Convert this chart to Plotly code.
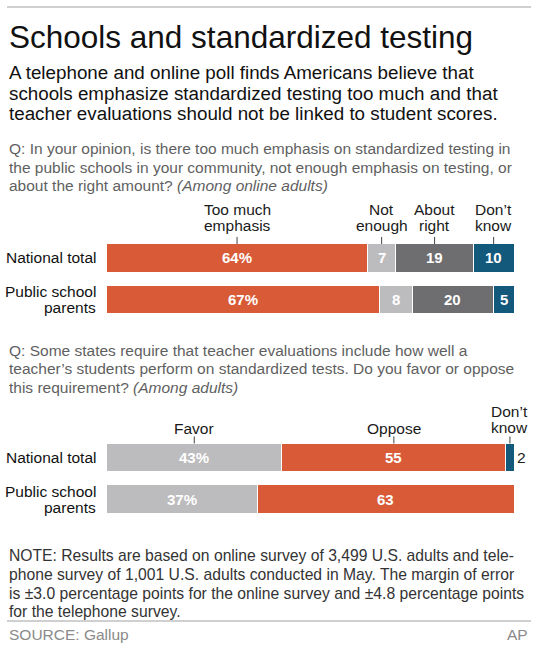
import plotly.graph_objects as go

# poll data (percent)
groups = ["National total", "Public school\nparents"]

q1_labels = ["Too much\nemphasis", "Not\nenough", "About\nright", "Don’t\nknow"]
q1_too_much = [64, 67]
q1_not_enough = [7, 8]
q1_about_right = [19, 20]
q1_dont_know = [10, 5]

q2_labels = ["Favor", "Oppose", "Don’t\nknow"]
q2_favor = [43, 37]
q2_oppose = [55, 63]
q2_dont_know = [2, 0]

W, H = 538, 649
FONT = "Liberation Sans, Arial, sans-serif"
ORANGE = "#d85a37"
LGRAY = "#bcbcbe"
DGRAY = "#6e6e70"
BLUE = "#13597b"


def py(p):  # pixel row -> paper y
    return 1 - p / H


def px(p):
    return p / W


fig = go.Figure()

charts = [
    ("y", [(q1_too_much, ORANGE), (q1_not_enough, LGRAY), (q1_about_right, DGRAY), (q1_dont_know, BLUE)], q1_labels),
    ("y2", [(q2_favor, LGRAY), (q2_oppose, ORANGE), (q2_dont_know, BLUE)], q2_labels),
]
BW = 0.675

for yref, series, labels in charts:
    xaxis = "x" if yref == "y" else "x2"
    base = [0] * len(groups)
    for k, (vals, col) in enumerate(series):
        fig.add_trace(go.Bar(
            y=groups, x=vals, orientation="h", width=BW,
            marker=dict(color=col, line=dict(color="white", width=1)),
            xaxis=xaxis, yaxis=yref, showlegend=False, hoverinfo="skip",
        ))
        for i, v in enumerate(vals):
            if v == 0:
                continue
            txt = f"{v}%" if k == 0 else str(v)
            if v < 4:
                fig.add_annotation(x=base[i] + v, y=groups[i], xref=xaxis, yref=yref,
                                   text=txt, showarrow=False, xanchor="left", yanchor="middle",
                                   xshift=1, font=dict(family=FONT, size=15.5, color="#222"))
            else:
                fig.add_annotation(x=base[i] + v / 2, y=groups[i], xref=xaxis, yref=yref,
                                   text=f"<b>{txt}</b>", showarrow=False,
                                   xanchor="center", yanchor="middle",
                                   font=dict(family=FONT, size=15, color="white"))
        # column header centred on first row's segment
        cx = base[0] + vals[0] / 2
        lines = labels[k].split("\n")
        if yref == "y":
            ys = [209, 225.5] if len(lines) == 2 else [225.5]
        else:
            ys = [412, 427.5] if len(lines) == 2 else [428]
        for t, yy in zip(lines, ys):
            fig.add_annotation(x=cx, y=py(yy), xref=xaxis, yref="paper", text=t,
                               showarrow=False, xanchor="center", yanchor="middle",
                               font=dict(family=FONT, size=15.5, color="#1a1a1a"))
        fig.add_shape(type="line", xref=xaxis, yref=yref, x0=cx, x1=cx,
                      y0=-BW / 2, y1=-BW / 2 - 0.17, line=dict(color="#444", width=1))
        base = [b + v for b, v in zip(base, vals)]
    # row labels
    for g in groups:
        lines = g.split("\n")
        shifts = [0] if len(lines) == 1 else [7.5, -8]
        for t, s in zip(lines, shifts):
            fig.add_annotation(x=px(98), y=g, xref="paper", yref=yref, text=t, yshift=s,
                               showarrow=False, xanchor="right", yanchor="middle",
                               font=dict(family=FONT, size=15.5, color="#111"))


# text blocks
def text(x, y, t, size, color="#111", anchor="left"):
    fig.add_annotation(x=px(x), y=py(y), xref="paper", yref="paper", text=t,
                       showarrow=False, xanchor=anchor, yanchor="middle",
                       font=dict(family=FONT, size=size, color=color))


text(7, 37, "Schools and standardized testing", 31.5)
sub = ["A telephone and online poll finds Americans believe that",
       "schools emphasize standardized testing too much and that",
       "teacher evaluations should not be linked to student scores."]
for i, s in enumerate(sub):
    text(7, 72.5 + i * 20.5, s, 18.8)

q1 = ["Q: In your opinion, is there too much emphasis on standardized testing in",
      "the public schools in your community, not enough emphasis on testing, or",
      "about the right amount? <i>(Among online adults)</i>"]
for i, s in enumerate(q1):
    text(7, 148.5 + i * 18.5, s, 15.5, "#5f5f5f")

q2 = ["Q: Some states require that teacher evaluations include how well a",
      "teacher’s students perform on standardized tests. Do you favor or oppose",
      "this requirement? <i>(Among adults)</i>"]
for i, s in enumerate(q2):
    text(7, 350 + i * 18.5, s, 15.5, "#5f5f5f")

note = ["NOTE: Results are based on online survey of 3,499 U.S. adults and tele-",
        "phone survey of 1,001 U.S. adults conducted in May. The margin of error",
        "is ±3.0 percentage points for the online survey and ±4.8 percentage points",
        "for the telephone survey."]
for i, s in enumerate(note):
    text(7, 555.5 + i * 18.8, s, 15.7, "#333")

text(7, 634, "SOURCE: Gallup", 15.5, "#8a8a8a")
text(530, 634, "AP", 15.5, "#8a8a8a", anchor="right")

for yy in (7, 621):
    fig.add_shape(type="line", xref="paper", yref="paper", x0=px(7), x1=px(531),
                  y0=py(yy), y1=py(yy), line=dict(color="#a0a0a0", width=1))

xdom = [px(106.7), px(514)]
axis_common = dict(showgrid=False, zeroline=False, showticklabels=False, fixedrange=True)
fig.update_layout(
    width=W, height=H, margin=dict(l=0, r=0, t=0, b=0),
    paper_bgcolor="white", plot_bgcolor="white", barmode="stack",
    xaxis=dict(domain=xdom, range=[0, 100], anchor="y", **axis_common),
    xaxis2=dict(domain=xdom, range=[0, 100], anchor="y2", **axis_common),
    yaxis=dict(domain=[py(258 + 1.5 * 41.5), py(258 - 0.75 * 41.5)], range=[1.5, -0.75],
               type="category", categoryarray=groups, anchor="x", **axis_common),
    yaxis2=dict(domain=[py(457.5 + 1.5 * 41.5), py(457.5 - 0.75 * 41.5)], range=[1.5, -0.75],
                type="category", categoryarray=groups, anchor="x2", **axis_common),
)

# the page's default body margin would push the 538x649 figure out of the window
fig.write_html("out.html", config={"displayModeBar": False},
               post_script="document.body.style.margin='0';")
